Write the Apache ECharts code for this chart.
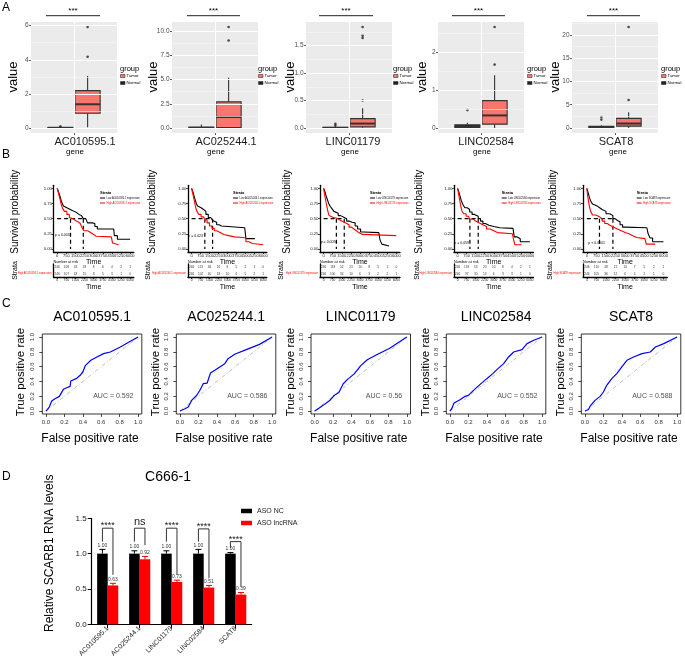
<!DOCTYPE html>
<html><head><meta charset="utf-8">
<script src="https://cdn.jsdelivr.net/npm/echarts@6/dist/echarts.min.js"></script>
<style>html,body{margin:0;padding:0;background:#fff}#c{width:685px;height:664px}</style>
</head><body><div id="c"></div>
<script>
// ---------------- DATA ----------------
const genes = ['AC010595.1','AC025244.1','LINC01179','LINC02584','SCAT8'];
// Panel A boxplots: [min, Q1, median, Q3, max]
const boxNormal = [[0,0,0.005,0.03,0.06],[0,0,0.02,0.08,0.35],[0,0,0.003,0.01,0.03],[0,0.005,0.03,0.08,0.14],[0,0.05,0.15,0.35,0.6]];
const boxTumor  = [[0.04,0.86,1.39,2.19,3.05],[0,0.05,1.13,2.7,5.2],[0.005,0.02,0.08,0.17,0.36],[0,0.1,0.33,0.72,1.39],[0,0.4,0.95,2.05,3.4]];
const outNormal = [[0.1],[],[0.045,0.075],[0.47],[1.8,2.35]];
const outTumor  = [[4.18,5.92],[9.05,10.45],[0.5,1.64,1.68,1.84],[1.67,2.66],[6.0,21.7]];
const aYTicks = [['0','2','4','6'],['0.0','2.5','5.0','7.5','10.0'],['0.0','0.5','1.0','1.5'],['0','1','2'],['0','5','10','15','20']];

// Panel B Kaplan-Meier: [time, survival]
const kmLowAC010595  = [[0,1],[80,0.96],[160,0.91],[250,0.86],[330,0.8],[420,0.75],[520,0.71],[650,0.68],[800,0.66],[1000,0.64],[1200,0.62],[1400,0.6],[1600,0.57],[1800,0.55],[2000,0.53],[2150,0.5],[2350,0.47],[2500,0.43],[2900,0.42],[3100,0.37],[3300,0.33],[4650,0.33],[4700,0.22],[4950,0.16],[6000,0.16]];
const kmHighAC010595 = [[0,1],[80,0.94],[170,0.87],[260,0.8],[340,0.73],[450,0.67],[600,0.62],[800,0.57],[1000,0.52],[1100,0.5],[1300,0.47],[1500,0.45],[1700,0.42],[1900,0.4],[2050,0.35],[2200,0.3],[2500,0.27],[2750,0.24],[3000,0.21],[3200,0.2],[4450,0.2],[4550,0.1],[4650,0.07],[5050,0.07]];
const kmLowAC025244  = [[0,1],[100,0.95],[200,0.88],[300,0.81],[400,0.75],[500,0.71],[650,0.68],[800,0.65],[1000,0.62],[1200,0.57],[1400,0.52],[1600,0.51],[1760,0.47],[1900,0.44],[2100,0.4],[2300,0.38],[2500,0.35],[4450,0.35],[4550,0.17],[5300,0.17]];
const kmHighAC025244 = [[0,1],[80,0.93],[170,0.85],[260,0.77],[350,0.68],[450,0.62],[600,0.57],[800,0.53],[1000,0.51],[1110,0.48],[1300,0.43],[1500,0.38],[1700,0.34],[1900,0.3],[2100,0.27],[2400,0.24],[2700,0.22],[3100,0.2],[3600,0.19],[4300,0.18],[4550,0.12],[4800,0.09],[5100,0.07],[6000,0.07]];
const kmLowLINC01179  = [[0,1],[100,0.95],[200,0.88],[300,0.82],[400,0.76],[550,0.7],[700,0.66],[850,0.62],[1000,0.59],[1200,0.55],[1400,0.52],[1700,0.5],[1900,0.46],[2100,0.44],[2350,0.43],[2600,0.38],[2800,0.33],[3050,0.28],[3300,0.27],[4550,0.27],[4650,0.15],[4800,0.08],[4950,0.05],[5400,0.05]];
const kmHighLINC01179 = [[0,1],[60,0.92],[150,0.82],[250,0.72],[350,0.62],[450,0.55],[600,0.52],[800,0.51],[1050,0.48],[1300,0.46],[1500,0.44],[1700,0.42],[1900,0.4],[2100,0.36],[2300,0.33],[2500,0.3],[2700,0.27],[2900,0.24],[3200,0.22],[6000,0.22]];
const kmLowLINC02584  = [[0,1],[100,0.94],[200,0.87],[300,0.8],[450,0.73],[600,0.68],[800,0.65],[1000,0.61],[1200,0.57],[1400,0.54],[1710,0.5],[1900,0.46],[2100,0.42],[2300,0.39],[2600,0.37],[3000,0.35],[3500,0.34],[4600,0.33],[4700,0.2],[4900,0.17],[5200,0.12],[6000,0.12]];
const kmHighLINC02584 = [[0,1],[70,0.92],[150,0.83],[250,0.72],[350,0.63],[500,0.58],[700,0.54],[900,0.52],[1020,0.49],[1300,0.46],[1500,0.43],[1800,0.4],[2100,0.37],[2400,0.33],[2700,0.3],[3000,0.27],[3300,0.25],[4550,0.25],[4650,0.15],[4750,0.07],[5300,0.07]];
const kmLowSCAT8  = [[0,1],[100,0.93],[200,0.85],[300,0.79],[450,0.74],[600,0.71],[800,0.68],[1000,0.65],[1200,0.62],[1500,0.58],[1800,0.55],[2040,0.5],[2200,0.47],[2400,0.45],[2600,0.4],[2800,0.36],[3000,0.35],[4700,0.35],[4800,0.25],[4950,0.18],[5150,0.12],[6000,0.12]];
const kmHighSCAT8 = [[0,1],[50,0.9],[120,0.8],[200,0.7],[300,0.62],[450,0.56],[700,0.53],[990,0.5],[1200,0.46],[1400,0.42],[1600,0.39],[1800,0.36],[2100,0.33],[2400,0.3],[2700,0.27],[3000,0.25],[3300,0.22],[3600,0.19],[3900,0.17],[4550,0.17],[4650,0.08],[5350,0.08]];
const medLow  = [2150,1760,1700,1710,2040];
const medHigh = [1100,1110,1050,1020,990];
const pValues = ['p = 0.003','p = 0.023','p = 0.0094','p = 0.059','p < 0.0001'];
const kmXTicks = ['0','750','1500','2250','3000','3750','4500','5250','6000'];
const kmYTicks = ['0.00','0.25','0.50','0.75','1.00'];
const riskLow  = [[246,108,43,18,8,6,4,2,1],[246,113,46,16,6,5,2,1,0],[246,118,52,23,10,8,5,1,0],[246,118,53,20,10,8,4,2,1],[246,110,48,21,10,7,5,2,1]];
const riskHigh = [[246,107,43,15,8,5,3,1,0],[246,102,40,18,10,6,5,2,1],[246,100,34,10,6,3,2,2,1],[246,97,30,13,6,3,3,1,0],[246,105,36,12,6,4,2,1,0]];

// Panel C ROC: [FPR, TPR]
const rocAC010595 = [[0,0],[0.036,0.054],[0.062,0.135],[0.098,0.167],[0.145,0.198],[0.189,0.293],[0.225,0.315],[0.262,0.333],[0.269,0.405],[0.327,0.437],[0.371,0.482],[0.4,0.527],[0.429,0.617],[0.487,0.685],[0.553,0.73],[0.625,0.775],[0.698,0.797],[0.807,0.865],[0.916,0.941],[1,1]];
const rocAC025244 = [[0,0],[0.054,0.03],[0.09,0.054],[0.126,0.144],[0.18,0.21],[0.216,0.28],[0.252,0.369],[0.295,0.378],[0.331,0.513],[0.378,0.55],[0.432,0.595],[0.486,0.64],[0.522,0.707],[0.594,0.766],[0.719,0.829],[0.863,0.9],[1,1]];
const rocLINC01179 = [[0,0],[0.05,0.04],[0.095,0.08],[0.167,0.147],[0.214,0.213],[0.262,0.249],[0.31,0.369],[0.357,0.427],[0.429,0.502],[0.5,0.613],[0.571,0.693],[0.667,0.756],[0.81,0.844],[1,1]];
const rocLINC02584 = [[0,0],[0.018,0.032],[0.044,0.108],[0.109,0.153],[0.164,0.198],[0.2,0.212],[0.255,0.279],[0.327,0.36],[0.4,0.437],[0.465,0.505],[0.509,0.559],[0.582,0.64],[0.636,0.73],[0.691,0.797],[0.782,0.829],[0.836,0.91],[0.909,0.955],[1,1]];
const rocSCAT8 = [[0,0],[0.036,0.018],[0.062,0.077],[0.109,0.144],[0.164,0.198],[0.2,0.257],[0.236,0.347],[0.291,0.437],[0.345,0.505],[0.4,0.595],[0.455,0.685],[0.527,0.73],[0.618,0.775],[0.709,0.797],[0.764,0.865],[0.855,0.91],[1,1]];
const aucText = ['AUC = 0.592','AUC = 0.586','AUC = 0.56','AUC = 0.552','AUC = 0.588'];
const rocTicks = ['0.0','0.2','0.4','0.6','0.8','1.0'];

// Panel D bars
const asoNC = [1.00,1.00,1.00,1.00,1.00];
const asoNCErr = [0.06,0.04,0.04,0.06,0.015];
const asoNCLabels = ['1.00','1.00','1.00','1.00','1.00'];
const asoLnc = [0.55,0.92,0.60,0.52,0.42];
const asoLncErr = [0.03,0.04,0.025,0.03,0.03];
const asoLncLabels = ['0.63','0.92','0.73','0.51','0.39'];
const sigText = ['****','ns','****','****','****'];
const brTop = [1.36,1.36,1.36,1.35,1.17];
const brLeft = [1.17,1.17,1.17,1.17,1.08];
const brRight = [0.70,1.12,0.70,0.65,0.53];
const dYTicks = ['0.0','0.5','1.0','1.5'];

const kmLowList = [kmLowAC010595,kmLowAC025244,kmLowLINC01179,kmLowLINC02584,kmLowSCAT8];
const kmHighList = [kmHighAC010595,kmHighAC025244,kmHighLINC01179,kmHighLINC02584,kmHighSCAT8];
const rocList = [rocAC010595,rocAC025244,rocLINC01179,rocLINC02584,rocSCAT8];

// ---------------- BUILD ----------------
const FF = "'Liberation Sans', Arial, Helvetica, sans-serif";
const grids=[], xAxes=[], yAxes=[], series=[], graphics=[];
function addGrid(g){ grids.push(Object.assign({outerBoundsMode:'none', containLabel:false}, g)); return grids.length-1; }
function addAxes(gi, x, y){ x.gridIndex=gi; y.gridIndex=gi; xAxes.push(x); yAxes.push(y); return [xAxes.length-1, yAxes.length-1]; }
function txt(x,y,text,size,o){ o=o||{}; return {type:'text', x:x, y:y, rotation:o.rot||0, silent:true, z:100,
  style:{text:text, fontSize:size, fontFamily:FF, fontWeight:o.bold?'bold':'normal', fill:o.color||'#000', textAlign:o.align||'center', textVerticalAlign:o.va||'middle'}}; }
function nearest(arr,v){ let b=0; arr.forEach((a,k)=>{ if(Math.abs(a-v)<Math.abs(arr[b]-v)) b=k; }); return b; }
const R90 = Math.PI/2;

// ===== Panel A =====
const aLeft=[31,172,306,438,572], aW=86, aTop=22, aH=111;
const aValueX=[13,153,290,422,555];
const aGeneX=[85,226,353,486,616];
const aGeneWordX=[75,216,350,482,618];
const aSig=[[46,100],[187,240],[319,373],[452,505],[587,640]];
const aLegX=[120,258,393,527,661];
genes.forEach((g,i)=>{
  const gi = addGrid({left:aLeft[i], top:aTop, width:aW, height:aH, show:true, backgroundColor:'#EBEBEB', borderWidth:0});
  const labs=aYTicks[i], vals=labs.map(Number);
  const all=boxNormal[i].concat(boxTumor[i], outNormal[i], outTumor[i]);
  const lo=Math.min.apply(null,all), hi=Math.max.apply(null,all), pad=(hi-lo)*0.05;
  const [xi,yi]=addAxes(gi,
    {type:'value', min:0.4, max:1.6, axisLine:{show:false,onZero:false}, splitLine:{show:false},
     axisTick:{show:true, customValues:[1], length:2, lineStyle:{color:'#333',width:0.8}}, axisLabel:{show:false}},
    {type:'value', min:lo-pad, max:hi+pad, axisLine:{show:false,onZero:false}, splitLine:{show:false},
     axisTick:{show:true, customValues:vals, length:2, lineStyle:{color:'#333',width:0.8}},
     axisLabel:{customValues:vals, formatter:v=>labs[nearest(vals,v)], fontSize:6.5, color:'#4D4D4D', margin:2.5, fontFamily:FF}});
  const step=vals[1]-vals[0];
  const minor=vals.map(v=>v+step/2).filter(v=>v<hi+pad);
  const ml=[];
  minor.forEach(v=>ml.push({yAxis:v, lineStyle:{color:'#F7F7F7', width:0.6, type:'solid'}}));
  vals.forEach(v=>ml.push({yAxis:v, lineStyle:{color:'#FFFFFF', width:1.1, type:'solid'}}));
  ml.push({xAxis:1, lineStyle:{color:'#FFFFFF', width:1.1, type:'solid'}});
  series.push({type:'line', xAxisIndex:xi, yAxisIndex:yi, data:[], z:1, silent:true,
    markLine:{silent:true, symbol:['none','none'], label:{show:false}, animation:false, data:ml}});
  series.push({type:'custom', xAxisIndex:xi, yAxisIndex:yi, z:3, silent:true,
    data:[[0.81].concat(boxNormal[i]), [1.19].concat(boxTumor[i])], encode:{x:0, y:[1,2,3,4,5]},
    renderItem:(p,api)=>{
      const x=api.value(0), w=api.size([0.35,0])[0];
      const c=k=>api.coord([x, api.value(k)]);
      const mn=c(1), q1=c(2), md=c(3), q3=c(4), mx=c(5);
      const fill=p.dataIndex===0?'#222222':'#F8766D';
      const st={stroke:'#333333', lineWidth:1.1};
      return {type:'group', children:[
        {type:'line', shape:{x1:mn[0],y1:mn[1],x2:q1[0],y2:q1[1]}, style:st},
        {type:'line', shape:{x1:q3[0],y1:q3[1],x2:mx[0],y2:mx[1]}, style:st},
        {type:'rect', shape:{x:q1[0]-w/2, y:q3[1], width:w, height:Math.max(q1[1]-q3[1],0.5)}, style:{fill:fill, stroke:'#333333', lineWidth:1.1}},
        {type:'line', shape:{x1:md[0]-w/2,y1:md[1],x2:md[0]+w/2,y2:md[1]}, style:{stroke:'#333333', lineWidth:2}}
      ]};
    }});
  series.push({type:'scatter', xAxisIndex:xi, yAxisIndex:yi, z:4, silent:true, symbolSize:2.6, itemStyle:{color:'#222'},
    data: outNormal[i].map(v=>[0.81,v]).concat(outTumor[i].map(v=>[1.19,v]))});
  graphics.push(txt(aValueX[i], 77, 'value', 13, {rot:R90}));
  graphics.push(txt(aGeneX[i], 142, g, 11, {color:'#1a1a1a'}));
  graphics.push(txt(aGeneWordX[i], 152, 'gene', 8));
  graphics.push(txt((aSig[i][0]+aSig[i][1])/2, 11, '***', 8));
  graphics.push({type:'line', silent:true, shape:{x1:aSig[i][0], y1:15.7, x2:aSig[i][1], y2:15.7}, style:{stroke:'#222', lineWidth:1}});
  const lx=aLegX[i];
  graphics.push(txt(lx, 69, 'group', 7.5, {align:'left'}));
  graphics.push({type:'rect', silent:true, shape:{x:lx+0.5, y:74.5, width:4.5, height:3}, style:{fill:'#F8766D', stroke:'#333', lineWidth:0.6}});
  graphics.push(txt(lx+6.5, 76, 'Tumor', 4.3, {align:'left'}));
  graphics.push({type:'rect', silent:true, shape:{x:lx+0.5, y:81.5, width:4.5, height:3}, style:{fill:'#222', stroke:'#333', lineWidth:0.6}});
  graphics.push(txt(lx+6.5, 83, 'Normal', 4.3, {align:'left'}));
});

// ===== Panel B =====
const kmLeft=[53.5,188,320,454,583], kmW=[80.3,78.8,80,79.5,84.3], kmTop=185.3, kmH=66.7;
const kmSurvX=[15,152,287,419,553], kmStrataX=[15,148,281,417,550];
const kmLegX=[100,233,370,501.7,636.7];
const kmPX=[55,188.3,320.7,454.3,588.3], kmPY=[235,235.7,241.7,242.7,242.7];
const kxv=kmXTicks.map(Number), kyv=kmYTicks.map(Number);
function kmXAxis(fs){ return {type:'value', min:-300, max:6300, splitLine:{show:false},
  axisLine:{show:true, onZero:false, lineStyle:{color:'#000', width:1.3}},
  axisTick:{show:true, customValues:kxv, length:2, lineStyle:{color:'#000', width:0.7}},
  axisLabel:{customValues:kxv, formatter:v=>kmXTicks[nearest(kxv,v)], fontSize:fs, color:'#222', margin:2, fontFamily:FF}}; }
function dashed(xi,yi,d){ return {type:'line', xAxisIndex:xi, yAxisIndex:yi, data:d, showSymbol:false, silent:true, z:2,
  lineStyle:{color:'#000', width:1.2, type:[4,3]}}; }
genes.forEach((g,i)=>{
  const gi=addGrid({left:kmLeft[i], top:kmTop, width:kmW[i], height:kmH});
  const [xi,yi]=addAxes(gi, kmXAxis(4),
    {type:'value', min:-0.05, max:1.05, splitLine:{show:false},
     axisLine:{show:true, onZero:false, lineStyle:{color:'#000', width:1.3}},
     axisTick:{show:true, customValues:kyv, length:2, lineStyle:{color:'#000', width:0.7}},
     axisLabel:{customValues:kyv, formatter:v=>kmYTicks[nearest(kyv,v)], fontSize:4.3, color:'#222', margin:1.5, fontFamily:FF}});
  series.push({type:'line', step:'end', xAxisIndex:xi, yAxisIndex:yi, data:kmLowList[i], showSymbol:false, silent:true, z:3, lineStyle:{color:'#000', width:1.1}});
  series.push({type:'line', step:'end', xAxisIndex:xi, yAxisIndex:yi, data:kmHighList[i], showSymbol:false, silent:true, z:3, lineStyle:{color:'#F00', width:1.1}});
  const mm=Math.max(medLow[i],medHigh[i]);
  series.push(dashed(xi,yi,[[0,0.5],[mm,0.5]]));
  series.push(dashed(xi,yi,[[medLow[i],0.5],[medLow[i],0]]));
  series.push(dashed(xi,yi,[[medHigh[i],0.5],[medHigh[i],0]]));
  // risk table
  const tg=addGrid({left:kmLeft[i], top:264, width:kmW[i], height:13});
  const [txi,tyi]=addAxes(tg, kmXAxis(3.2),
    {type:'category', data:['High','Low'], splitLine:{show:false},
     axisLine:{show:true, onZero:false, lineStyle:{color:'#000', width:1.3}}, axisTick:{show:false},
     axisLabel:{formatter:v=>v+' '+g+' expression', fontSize:2.6, margin:2, fontFamily:FF, color:(v,k)=>(v==='High'||k===0)?'#F00':'#000'}});
  series.push({type:'scatter', xAxisIndex:txi, yAxisIndex:tyi, silent:true, symbolSize:1, itemStyle:{color:'transparent'},
    data: riskLow[i].map((n,k)=>[kxv[k],1,n]).concat(riskHigh[i].map((n,k)=>[kxv[k],0,n])),
    label:{show:true, position:'inside', formatter:p=>String(p.value[2]), fontSize:3.2, color:'#000', fontFamily:FF}});
  const cx=kmLeft[i]+kmW[i]/2;
  graphics.push(txt(kmSurvX[i], 211.7, 'Survival probability', 10, {rot:R90}));
  graphics.push(txt(kmStrataX[i], 270.5, 'Strata', 7, {rot:R90}));
  graphics.push(txt(kmLeft[i], 262, 'Number at risk', 3.8, {align:'left'}));
  graphics.push(txt(cx, 262, 'Time', 7));
  graphics.push(txt(cx, 287, 'Time', 7));
  graphics.push(txt(kmPX[i], kmPY[i], pValues[i], 3.5, {align:'left'}));
  const lx=kmLegX[i];
  graphics.push(txt(lx, 193.3, 'Strata', 4, {align:'left', bold:true}));
  graphics.push({type:'line', silent:true, shape:{x1:lx, y1:198, x2:lx+5, y2:198}, style:{stroke:'#000', lineWidth:1}});
  graphics.push(txt(lx+6.5, 198, 'Low '+g+' expression', 2.6, {align:'left'}));
  graphics.push({type:'line', silent:true, shape:{x1:lx, y1:203, x2:lx+5, y2:203}, style:{stroke:'#F00', lineWidth:1}});
  graphics.push(txt(lx+6.5, 203, 'High '+g+' expression', 2.6, {align:'left', color:'#F00'}));
});

// ===== Panel C =====
const rocLeft=[42.3,176.3,311,446.3,581.3], rocW=99.5, rocTop=334, rocH=80;
const rocYLabX=[20.8,155.8,291,426,561];
const rv=rocTicks.map(Number);
function rocAxis(isY){ return {type:'value', min:-0.04, max:1.04, splitLine:{show:false},
  axisLine:{show:false, onZero:false},
  axisTick:{show:true, customValues:rv, length:3, lineStyle:{color:'#000', width:0.7}},
  axisLabel:{customValues:rv, formatter:v=>rocTicks[nearest(rv,v)], fontSize:6, color:'#333', margin:isY?7:5, rotate:isY?90:0, fontFamily:FF}}; }
genes.forEach((g,i)=>{
  const gi=addGrid({left:rocLeft[i], top:rocTop, width:rocW, height:rocH, show:true, borderColor:'#000', borderWidth:0.8, backgroundColor:'transparent'});
  const [xi,yi]=addAxes(gi, rocAxis(false), rocAxis(true));
  series.push({type:'line', xAxisIndex:xi, yAxisIndex:yi, data:[[0,0],[1,1]], showSymbol:false, silent:true, z:2,
    lineStyle:{color:'#B0B0B0', width:0.8, type:[4,2,1,2]}});
  series.push({type:'line', xAxisIndex:xi, yAxisIndex:yi, data:rocList[i], showSymbol:false, silent:true, z:3,
    lineStyle:{color:'#0000FF', width:1.2}});
  series.push({type:'scatter', xAxisIndex:xi, yAxisIndex:yi, data:[[0.955,0.2]], symbolSize:1, silent:true, itemStyle:{color:'transparent'},
    label:{show:true, position:'left', distance:0, formatter:aucText[i], fontSize:7, color:'#222', fontFamily:FF}});
  const cx=rocLeft[i]+rocW/2;
  graphics.push(txt(cx, 316.7, g, 14));
  graphics.push(txt(rocYLabX[i], 372, 'True positive rate', 11.5, {rot:R90}));
  graphics.push(txt(cx-2, 438.3, 'False positive rate', 12));
});

// ===== Panel D =====
const dg=addGrid({left:91.7, top:518.3, width:160, height:106});
const dv=dYTicks.map(Number);
xAxes.push({gridIndex:dg, type:'category', data:genes,
  axisLine:{show:true, onZero:false, lineStyle:{color:'#000', width:1.2}},
  axisTick:{show:true, alignWithLabel:true, length:4, lineStyle:{color:'#000', width:1}},
  axisLabel:{rotate:45, fontSize:7, color:'#222', margin:3, fontFamily:FF, interval:0}});
const dxc=xAxes.length-1;
xAxes.push({gridIndex:dg, type:'value', min:0, max:5, show:false});
const dxv=xAxes.length-1;
yAxes.push({gridIndex:dg, type:'value', min:0, max:1.5, interval:0.5, splitLine:{show:false},
  axisLine:{show:true, onZero:false, lineStyle:{color:'#000', width:1.2}},
  axisTick:{show:true, length:4, lineStyle:{color:'#000', width:1}},
  axisLabel:{formatter:v=>dYTicks[nearest(dv,v)], fontSize:8, color:'#222', margin:5, fontFamily:FF}});
const dy=yAxes.length-1;
series.push({type:'bar', name:'ASO NC', xAxisIndex:dxc, yAxisIndex:dy, data:asoNC, barWidth:'33%', barGap:'0%', itemStyle:{color:'#000'}, silent:true, z:2});
series.push({type:'bar', name:'ASO lncRNA', xAxisIndex:dxc, yAxisIndex:dy, data:asoLnc, barWidth:'33%', barGap:'0%', itemStyle:{color:'#FF0000'}, silent:true, z:2});
function errSeries(off, vals, errs, labs, color){
  return {type:'custom', xAxisIndex:dxv, yAxisIndex:dy, z:5, silent:true, clip:false,
    data: vals.map((v,k)=>[k+0.5+off, v, v+errs[k]]), encode:{x:0, y:[1,2]},
    renderItem:(p,api)=>{
      const b=api.coord([api.value(0),api.value(1)]), t=api.coord([api.value(0),api.value(2)]);
      return {type:'group', children:[
        {type:'line', shape:{x1:b[0],y1:b[1],x2:t[0],y2:t[1]}, style:{stroke:color, lineWidth:1}},
        {type:'line', shape:{x1:t[0]-3,y1:t[1],x2:t[0]+3,y2:t[1]}, style:{stroke:color, lineWidth:1}},
        {type:'text', x:t[0], y:t[1]-1.5, style:{text:labs[p.dataIndex], fontSize:5, fontFamily:FF, fill:'#333', textAlign:'center', textVerticalAlign:'bottom'}}
      ]};
    }};
}
series.push(errSeries(-0.165, asoNC, asoNCErr, asoNCLabels, '#000'));
series.push(errSeries(0.165, asoLnc, asoLncErr, asoLncLabels, '#FF0000'));
series.push({type:'custom', xAxisIndex:dxv, yAxisIndex:dy, z:6, silent:true, clip:false,
  data: genes.map((g,k)=>[k+0.5, brTop[k]]), encode:{x:0, y:1},
  renderItem:(p,api)=>{
    const k=p.dataIndex, xl=k+0.5-0.165, xr=k+0.5+0.165;
    const a=api.coord([xl,brLeft[k]]), b=api.coord([xl,brTop[k]]), c=api.coord([xr,brTop[k]]), d=api.coord([xr,brRight[k]]);
    const ns=sigText[k]==='ns';
    return {type:'group', children:[
      {type:'polyline', shape:{points:[a,b,c,d]}, style:{stroke:'#333', lineWidth:1, fill:'none'}},
      {type:'text', x:(b[0]+c[0])/2, y:b[1]+(ns?-0.5:2), style:{text:sigText[k], fontSize:ns?11:9, fontFamily:FF, fill:'#222', textAlign:'center', textVerticalAlign:'bottom'}}
    ]};
  }});
graphics.push(txt(168, 477.3, 'C666-1', 14));
graphics.push(txt(49.3, 553.3, 'Relative SCARB1 RNA levels', 12, {rot:R90}));

// Panel letters
graphics.push(txt(2, 8, 'A', 12, {align:'left'}));
graphics.push(txt(2, 155, 'B', 12, {align:'left'}));
graphics.push(txt(2, 304, 'C', 12, {align:'left'}));
graphics.push(txt(2, 477, 'D', 12, {align:'left'}));

const option = {
  animation:false, backgroundColor:'#fff', textStyle:{fontFamily:FF},
  grid:grids, xAxis:xAxes, yAxis:yAxes, series:series,
  legend:{data:['ASO NC','ASO lncRNA'], orient:'vertical', left:236, top:502.5, itemWidth:11, itemHeight:4.5, itemGap:5,
    icon:'rect', selectedMode:false, textStyle:{fontSize:7, color:'#222', fontFamily:FF}},
  graphic:{elements:graphics}
};
const chart = echarts.init(document.getElementById('c'), null, {renderer:'canvas'});
chart.setOption(option);
</script></body></html>
